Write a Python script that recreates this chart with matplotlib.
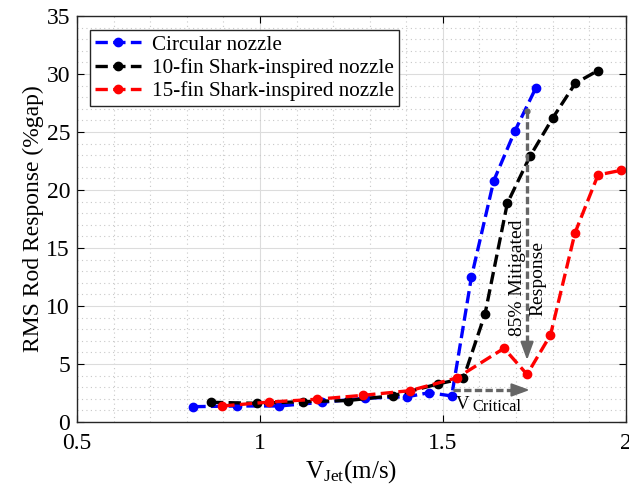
import matplotlib
matplotlib.use("Agg")
import matplotlib.pyplot as plt
from matplotlib.ticker import MultipleLocator

plt.rcParams['font.family'] = ['Liberation Serif', 'DejaVu Serif']
plt.rcParams['mathtext.fontset'] = 'custom'
plt.rcParams['mathtext.rm'] = 'Liberation Serif'
plt.rcParams['mathtext.it'] = 'Liberation Serif:italic'

# Data
circ_x = [0.818, 0.936, 1.053, 1.170, 1.287, 1.403, 1.463, 1.524, 1.578, 1.639, 1.697, 1.754]
circ_y = [1.32, 1.38, 1.38, 1.70, 2.05, 2.18, 2.53, 2.24, 12.5, 20.8, 25.1, 28.8]

fin10_x = [0.866, 0.991, 1.117, 1.241, 1.364, 1.487, 1.556, 1.615, 1.676, 1.738, 1.800, 1.862, 1.924]
fin10_y = [1.70, 1.61, 1.75, 1.85, 2.27, 3.28, 3.76, 9.3, 18.85, 22.9, 26.2, 29.2, 30.3]

fin15_x = [0.897, 1.026, 1.155, 1.282, 1.410, 1.538, 1.667, 1.730, 1.794, 1.861, 1.924, 1.988]
fin15_y = [1.38, 1.72, 1.96, 2.30, 2.70, 3.80, 6.35, 4.10, 7.50, 16.3, 21.3, 21.7]

labels = ["Circular nozzle", "10-fin Shark-inspired nozzle", "15-fin Shark-inspired nozzle"]
xticks = [0.5, 1, 1.5, 2]
xtick_labels = ["0.5", "1", "1.5", "2"]
yticks = [0, 5, 10, 15, 20, 25, 30, 35]

fig = plt.figure(figsize=(6.29, 4.95), dpi=100)
ax = fig.add_axes([0.1224, 0.1475, 0.8726, 0.8202])

lw = 2.4
ms = 6
ax.plot(circ_x, circ_y, '--o', color='#0000ff', lw=lw, ms=ms, label=labels[0])
ax.plot(fin10_x, fin10_y, '--o', color='black', lw=lw, ms=ms, label=labels[1])
ax.plot(fin15_x, fin15_y, '--o', color='#ff0000', lw=lw, ms=ms, label=labels[2])

gray = '#666666'
# Vertical arrow (mitigated response)
vx = 1.730
ax.plot([vx, vx], [26.8, 6.4], linestyle=(0, (2.2, 1.0)), color=gray, lw=2.4)
ax.plot([vx], [26.8], 'o', color=gray, ms=3.5)
ax.annotate('', xy=(vx, 5.1), xytext=(vx, 7.0),
            arrowprops=dict(arrowstyle='-|>,head_width=0.4,head_length=1.1', color=gray, lw=1.5))
# Horizontal arrow (critical velocity)
hy = 2.76
ax.plot([1.527, 1.715], [hy, hy], linestyle=(0, (2.2, 1.0)), color=gray, lw=2.4)
ax.annotate('', xy=(1.745, hy), xytext=(1.705, hy),
            arrowprops=dict(arrowstyle='-|>,head_width=0.4,head_length=1.1', color=gray, lw=1.5))

ax.text(1.534, 1.55, 'V', fontsize=13.5, ha='left', va='center')
ax.text(1.580, 1.25, 'Critical', fontsize=11.8, ha='left', va='center')
ax.text(1.731, 12.4, '85% Mitigated\nResponse', fontsize=14, rotation=90,
        ha='center', va='center', linespacing=1.25)

ax.set_xlim(0.5, 2.0)
ax.set_ylim(0, 35)
ax.set_xticks(xticks)
ax.set_xticklabels(xtick_labels)
ax.set_yticks(yticks)
ax.xaxis.set_minor_locator(MultipleLocator(0.1))
ax.yaxis.set_minor_locator(MultipleLocator(1))
ax.grid(True, which='major', color='#dcdcdc', lw=0.8)
ax.grid(True, which='minor', color='#c8c8c8', lw=0.8, linestyle=(0, (1, 3)))
ax.set_axisbelow(True)
ax.tick_params(which='both', direction='in', top=True, right=True, labelsize=17)
ax.tick_params(which='minor', length=0)
ax.tick_params(which='major', length=5)
ax.tick_params(axis='x', which='major', pad=8)
ax.tick_params(axis='y', which='major', pad=5)
for s in ax.spines.values():
    s.set_linewidth(1.0)
    s.set_color('#262626')

ax.set_xlabel(r'V$_{\mathrm{Jet}}$(m/s)', fontsize=18, labelpad=3)
ax.set_ylabel('RMS Rod Response (%gap)', fontsize=17, labelpad=2)

leg = ax.legend(loc='upper left', bbox_to_anchor=(0.023, 0.966), fontsize=15.2,
                frameon=True, fancybox=False, edgecolor='#262626', framealpha=1,
                handlelength=2.2, handletextpad=0.5, borderpad=0.25, labelspacing=0.15,
                borderaxespad=0)
leg.get_frame().set_linewidth(1.0)

fig.savefig('out.png', dpi=100)
